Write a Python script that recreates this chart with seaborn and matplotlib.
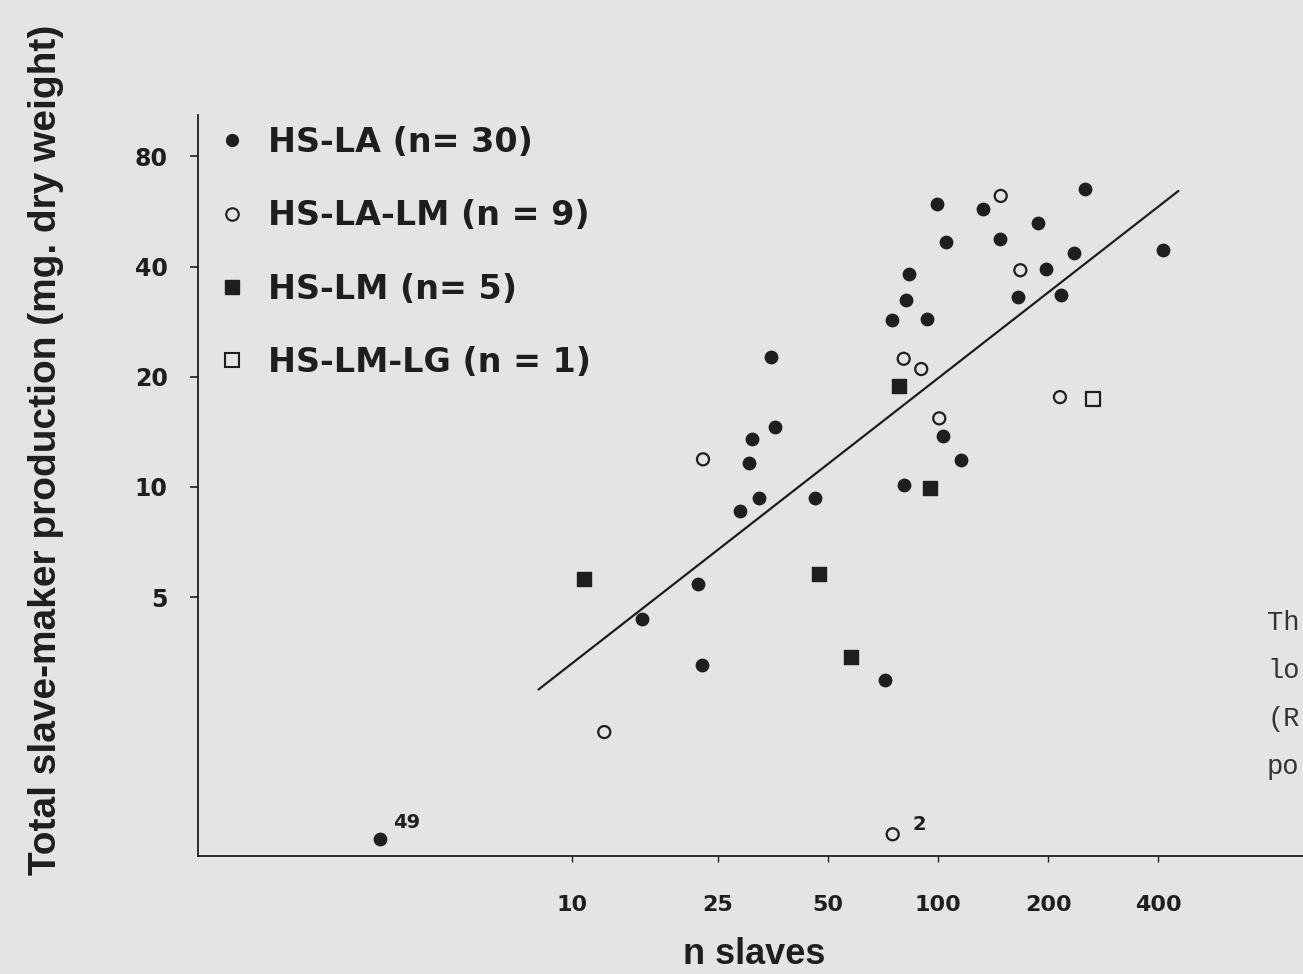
import numpy as np
import matplotlib.pyplot as plt
import seaborn as sns
from matplotlib.lines import Line2D

# ------------------------------------------
# Data
# ------------------------------------------

# HS-LA colonies, filled circles
hs_la_slaves = [2.99, 15.5, 22.1, 22.7, 28.7, 30.4, 31.1, 32.5, 35.9, 35.0,
                46.0, 71.8, 74.9, 80.7, 81.8, 83.2, 93.3, 99.6, 103.4, 105.4,
                115.3, 132.5, 148.0, 165.4, 187.9, 197.3, 216.4, 235.7, 252.1, 412.8]
hs_la_prod = [1.09, 4.35, 5.42, 3.26, 8.61, 11.65, 13.5, 9.33, 14.6, 22.7,
              9.33, 2.96, 28.6, 10.1, 32.4, 38.1, 28.8, 59.2, 13.8, 46.7,
              11.85, 57.5, 47.7, 33.0, 52.5, 39.3, 33.4, 43.5, 65.2, 44.4]

# HS-LA-LM colonies, open circles
hs_la_lm_slaves = [12.25, 22.8, 75.2, 80.6, 90.0, 100.8, 148.4, 167.9, 215.4]
hs_la_lm_prod = [2.14, 11.9, 1.125, 22.4, 21.0, 15.4, 62.4, 39.1, 17.6]

# HS-LM colonies, filled squares
hs_lm_slaves = [10.8, 47.3, 57.7, 78.2, 95.1]
hs_lm_prod = [5.62, 5.78, 3.44, 18.9, 9.92]

# HS-LM-LG colony, open square
hs_lm_lg_slaves = [264.7]
hs_lm_lg_prod = [17.4]

legend_labels = ["HS-LA (n= 30)", "HS-LA-LM (n = 9)", "HS-LM (n= 5)", "HS-LM-LG (n = 1)"]

# log-log regression line
fit_slope = 0.779
fit_intercept = -0.261
fit_range = [8.1, 454.0]

x_ticks = [10, 25, 50, 100, 200, 400]
y_ticks = [5, 10, 20, 40, 80]

ink = "#1e1e1e"
paper = "#e4e4e4"

# ------------------------------------------
# Figure
# ------------------------------------------

sns.set_style("ticks")
plt.rcParams["font.family"] = ["DejaVu Sans"]

fig = plt.figure(figsize=(13.03, 9.74), dpi=100, facecolor=paper)
ax = fig.add_axes([0.152, 0.1211, 0.848, 0.7608])
ax.set_facecolor(paper)

sns.scatterplot(x=hs_la_slaves, y=hs_la_prod, marker="o", s=80,
                color=ink, edgecolor=ink, linewidth=1, ax=ax, zorder=3)
sns.scatterplot(x=hs_la_lm_slaves, y=hs_la_lm_prod, marker="o", s=75,
                facecolors="none", edgecolor=ink, linewidth=1.6, ax=ax, zorder=3)
sns.scatterplot(x=hs_lm_slaves, y=hs_lm_prod, marker="s", s=110,
                color=ink, edgecolor=ink, linewidth=1, ax=ax, zorder=3)
sns.scatterplot(x=hs_lm_lg_slaves, y=hs_lm_lg_prod, marker="s", s=105,
                facecolors="none", edgecolor=ink, linewidth=1.6, ax=ax, zorder=3)

fit_x = np.array(fit_range)
fit_y = 10 ** (fit_intercept + fit_slope * np.log10(fit_x))
sns.lineplot(x=fit_x, y=fit_y, color=ink, linewidth=1.6, ax=ax)

ax.annotate("49", (hs_la_slaves[0], hs_la_prod[0]), xytext=(9, 8),
            textcoords="offset points", fontsize=14, fontweight="bold", color=ink)
ax.annotate("2", (hs_la_lm_slaves[2], hs_la_lm_prod[2]), xytext=(14, 3),
            textcoords="offset points", fontsize=14, fontweight="bold", color=ink)

# ------------------------------------------
# Axes
# ------------------------------------------

ax.set_xscale("log")
ax.set_yscale("log")
ax.set_xlim(0.951, 994)
ax.set_ylim(0.981, 103.8)
ax.minorticks_off()

ax.set_xticks(x_ticks)
ax.set_xticklabels([str(t) for t in x_ticks], fontsize=16, fontweight="bold", color=ink)
ax.set_yticks(y_ticks)
ax.set_yticklabels([str(t) for t in y_ticks], fontsize=17, fontweight="bold", color=ink)

ax.tick_params(axis="y", direction="out", length=6, width=1.2, pad=16, color=ink)
ax.tick_params(axis="x", direction="out", length=4, width=1.0, pad=24, color=ink)

for side in ["top", "right"]:
    ax.spines[side].set_visible(False)
for side in ["left", "bottom"]:
    ax.spines[side].set_linewidth(1.3)
    ax.spines[side].set_color(ink)

ax.set_xlabel("n slaves", fontsize=26, fontweight="bold", color=ink,
              family="Liberation Sans")
ax.xaxis.label.set_va("baseline")
ax.xaxis.set_label_coords(0.503, -0.1455)
ax.set_ylabel("Total slave-maker production (mg. dry weight)", fontsize=28,
              fontweight="bold", color=ink, family="Liberation Sans")
ax.yaxis.label.set_va("baseline")
ax.yaxis.set_label_coords(-0.1285, 0.548)

# ------------------------------------------
# Legend
# ------------------------------------------

handles = [
    Line2D([], [], ls="none", marker="o", ms=8.5, mfc=ink, mec=ink),
    Line2D([], [], ls="none", marker="o", ms=9, mfc="none", mec=ink, mew=1.5),
    Line2D([], [], ls="none", marker="s", ms=10, mfc=ink, mec=ink),
    Line2D([], [], ls="none", marker="s", ms=10.5, mfc="none", mec=ink, mew=1.5),
]
leg = ax.legend(handles, legend_labels, loc="upper left",
                bbox_to_anchor=(219 / 1303, 1 - 126 / 974),
                bbox_transform=fig.transFigure, frameon=False,
                prop={"weight": "bold", "size": 24},
                handlelength=0.77, handletextpad=0.7, labelspacing=1.21,
                borderpad=0, borderaxespad=0)
for t in leg.get_texts():
    t.set_color(ink)

# cut-off typewriter text from the scanned page
for txt, yb in zip(["Th", "lo", "(R", "po"], [630, 678, 726, 774]):
    fig.text(1267 / 1303, 1 - yb / 974, txt, family="Liberation Mono",
             fontsize=19.5, color="#333333", va="baseline", ha="left")

fig.savefig("out.png", dpi=100, facecolor=paper)
